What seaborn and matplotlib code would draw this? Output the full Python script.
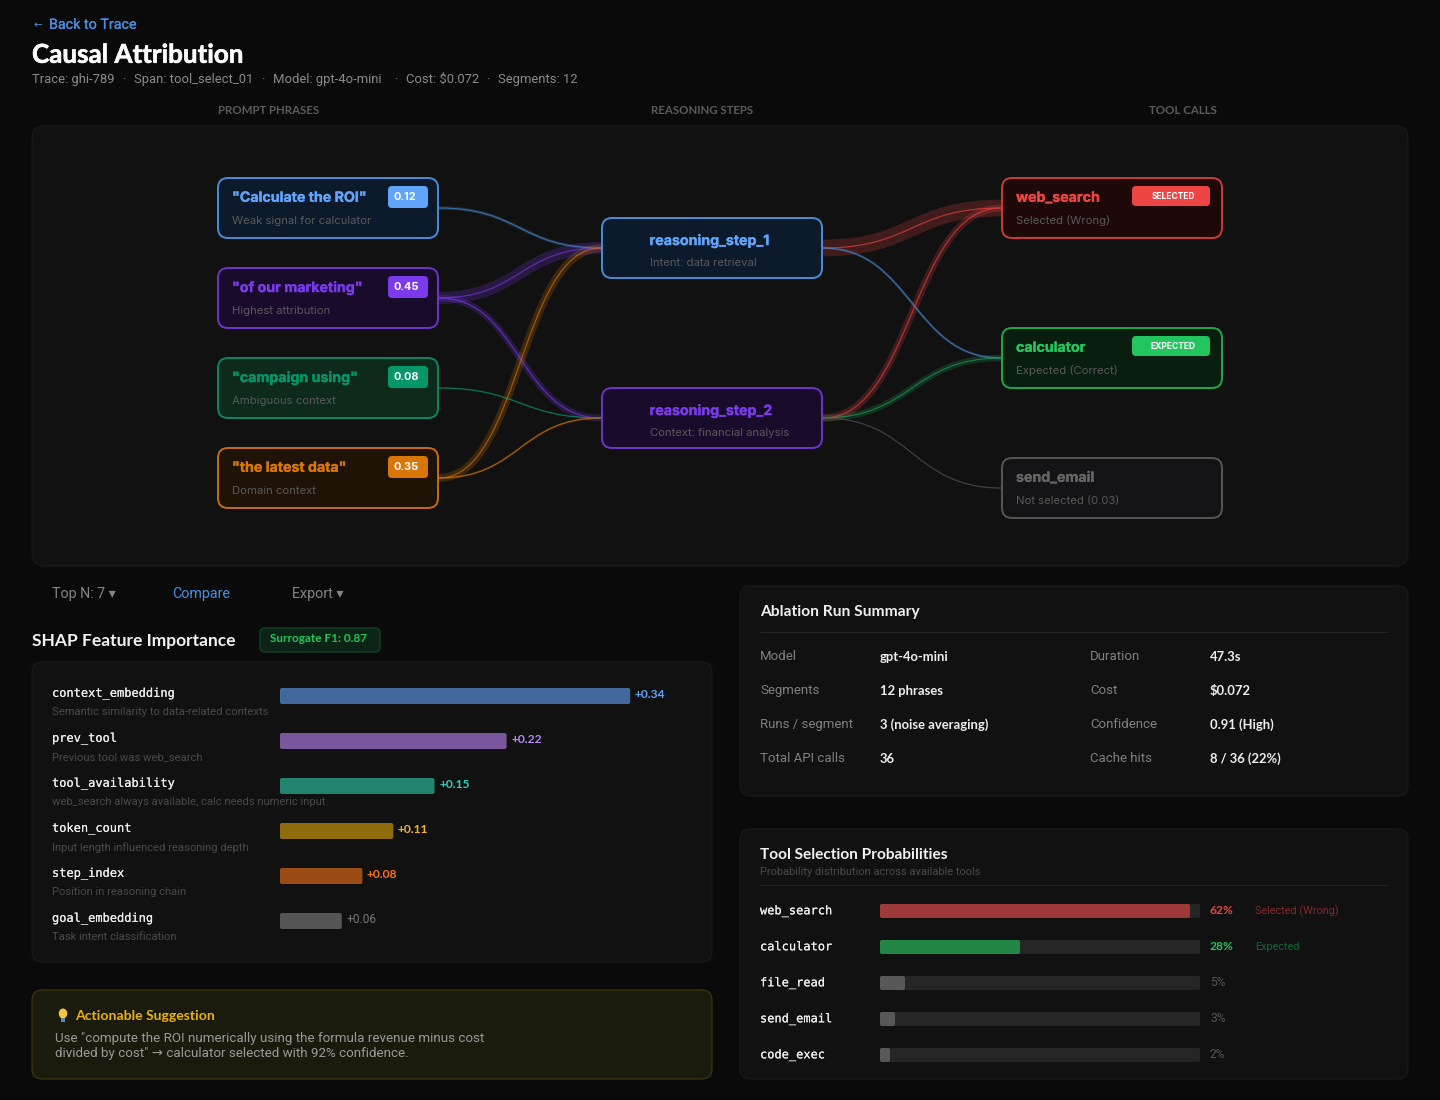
import matplotlib
matplotlib.use("Agg")
import matplotlib.pyplot as plt
import matplotlib.patheffects as pe
from matplotlib.patches import FancyBboxPatch, PathPatch, Ellipse, Rectangle
from matplotlib.path import Path
import seaborn as sns

# ================================
# Data:
# ================================

prompt_names = ['"Calculate the ROI"', '"of our marketing"', '"campaign using"', '"the latest data"']
prompt_notes = ["Weak signal for calculator", "Highest attribution", "Ambiguous context", "Domain context"]
prompt_scores = ["0.12", "0.45", "0.08", "0.35"]

step_names = ["reasoning_step_1", "reasoning_step_2"]
step_notes = ["Intent: data retrieval", "Context: financial analysis"]

tool_names = ["web_search", "calculator", "send_email"]
tool_notes = ["Selected (Wrong)", "Expected (Correct)", "Not selected (0.03)"]
tool_badges = ["SELECTED", "EXPECTED", None]

# source node, target node, weight
link_src = ["p0", "p1", "p1", "p2", "p3", "p3", "s0", "s0", "s1", "s1", "s1"]
link_dst = ["s0", "s0", "s1", "s1", "s0", "s1", "t0", "t1", "t0", "t1", "t2"]
link_weight = [0.12, 0.45, 0.25, 0.06, 0.30, 0.08, 0.62, 0.10, 0.28, 0.24, 0.03]

meta_items = ["Trace: ghi-789", "Span: tool_select_01", "Model: gpt-4o-mini", "Cost: $0.072", "Segments: 12"]

shap_features = ["context_embedding", "prev_tool", "tool_availability", "token_count", "step_index", "goal_embedding"]
shap_notes = ["Semantic similarity to data-related contexts", "Previous tool was web_search",
              "web_search always available, calc needs numeric input", "Input length influenced reasoning depth",
              "Position in reasoning chain", "Task intent classification"]
shap_values = [0.34, 0.22, 0.15, 0.11, 0.08, 0.06]

summary_left = [("Model", "gpt-4o-mini"), ("Segments", "12 phrases"), ("Runs / segment", "3 (noise averaging)"), ("Total API calls", "36")]
summary_right = [("Duration", "47.3s"), ("Cost", "$0.072"), ("Confidence", "0.91 (High)"), ("Cache hits", "8 / 36 (22%)")]

prob_tools = ["web_search", "calculator", "file_read", "send_email", "code_exec"]
prob_values = [62, 28, 5, 3, 2]
prob_notes = ["Selected (Wrong)", "Expected", None, None, None]

# ================================
# Styles:
# ================================

BG = "#0a0a0a"
PANEL = "#111111"
BORDER = "#1c1c1c"
BLUE = "#60a5fa"
PURPLE = "#7c3aed"
SANS = ["Roboto", "DejaVu Sans"]
BOLD = ["Lato", "DejaVu Sans"]
HEAD = ["Inter", "DejaVu Sans"]
MONO = ["DejaVu Sans Mono"]

prompt_style = [("#0c1a2b", "#4a88cf", BLUE), ("#190b2b", "#6a35c4", PURPLE),
                ("#0d2a1b", "#0b8460", "#059669"), ("#1f1307", "#c26a0f", "#d97706")]
step_style = [("#0c1a2b", "#4a88cf", BLUE), ("#190b2b", "#6a35c4", PURPLE)]
tool_style = [("#1e0808", "#c53a3a", "#ef4444"), ("#0a1e0f", "#1ea34d", "#22c55e"), ("#141416", "#555555", "#666666")]
link_colors = ["#4a90d9", "#7c3aed", "#7c3aed", "#059669", "#d97706", "#d97706",
               "#ef4444", "#4a90d9", "#ef4444", "#22a05a", "#555555"]
shap_bar_colors = ["#41699b", "#7a569c", "#22836f", "#8f6c0b", "#9a4c14", "#555555"]
shap_text_colors = [BLUE, "#b48cf5", "#2dd4bf", "#f5b81e", "#f97316", "#777777"]
prob_bar_colors = ["#9f3a3a", "#238646", "#585858", "#585858", "#585858"]
prob_text_colors = ["#ef4444", "#22c55e", "#555555", "#555555", "#555555"]
prob_note_colors = ["#7f2a2a", "#166534", None, None, None]

NODE_W, NODE_H = 222, 62
prompt_x, step_x, tool_x = 217, 601, 1001
prompt_y = [177, 267, 357, 447]
step_y = [217, 387]
tool_y = [177, 327, 457]
meta_x = [32, 134, 273, 406, 498]


def fpx(size):
    """CSS pixels to points at 100 dpi."""
    return size * 0.72


def box(ax, x0, y0, x1, y1, radius, fc, ec="none", lw=1.0, z=1):
    patch = FancyBboxPatch((x0, y0), x1 - x0, y1 - y0, boxstyle="round,pad=0,rounding_size=%g" % radius,
                           fc=fc, ec=ec, lw=lw * 0.72, zorder=z)
    ax.add_patch(patch)
    return patch


def node(ax, x, y, style):
    box(ax, x + 1, y + 1, x + NODE_W - 1, y + NODE_H - 1, 10, style[0], style[1], 2, z=4)


def label(ax, x, y, s, size, color, family=SANS, weight="normal", ha="left", z=5, heavy=0):
    txt = ax.text(x, y + 0.8, s, fontsize=fpx(size), color=color, family=family, weight=weight,
                  ha=ha, va="center", zorder=z)
    if heavy:
        txt.set_path_effects([pe.withStroke(linewidth=heavy, foreground=color)])
    return txt


def link(ax, start, end, color, weight):
    xm = (start[0] + end[0]) / 2
    verts = [start, (xm, start[1]), (xm, end[1]), end]
    codes = [Path.MOVETO, Path.CURVE4, Path.CURVE4, Path.CURVE4]
    ax.add_patch(PathPatch(Path(verts, codes), fc="none", ec=color, lw=fpx(weight * 27), alpha=0.22,
                           capstyle="butt", zorder=2))
    ax.add_patch(PathPatch(Path(verts, codes), fc="none", ec=color, lw=fpx(1.2), alpha=0.65,
                           capstyle="butt", zorder=3))


def roundBars(ax, page, radius):
    """Swap the square seaborn bars for rounded ones at the same place."""
    for bar in list(ax.patches):
        ext = bar.get_window_extent()
        if ext.width <= 0:
            continue
        rounded = FancyBboxPatch((ext.x0, 1100 - ext.y1), ext.width, ext.height,
                                 boxstyle="round,pad=0,rounding_size=%g" % radius,
                                 fc=bar.get_facecolor(), ec="none", transform=page.transData, clip_on=False, zorder=3)
        bar.set_visible(False)
        ax.add_patch(rounded)


def barAxes(fig, x0, y0, x1, y1):
    ax = fig.add_axes([x0 / 1440, 1 - y1 / 1100, (x1 - x0) / 1440, (y1 - y0) / 1100])
    ax.patch.set_alpha(0)
    ax.set_zorder(5)
    return ax


def plotFlow(page):
    box(page, 32, 126, 1408, 566, 12, PANEL, BORDER)
    label(page, 218, 110, "PROMPT PHRASES", 11.55, "#5c5c5c", BOLD, "bold")
    label(page, 651, 110, "REASONING STEPS", 11.55, "#5c5c5c", BOLD, "bold")
    label(page, 1149, 110, "TOOL CALLS", 11.55, "#5c5c5c", BOLD, "bold")

    anchors = {}
    for i, y in enumerate(prompt_y):
        anchors["p%d" % i] = (prompt_x + NODE_W, y + NODE_H / 2)
    for i, y in enumerate(step_y):
        anchors["s%d" % i] = (step_x, y + NODE_H / 2)
    for i, y in enumerate(tool_y):
        anchors["t%d" % i] = (tool_x, y + NODE_H / 2)

    for src, dst, weight, color in zip(link_src, link_dst, link_weight, link_colors):
        start = anchors[src]
        if src[0] == "s":
            start = (step_x + NODE_W, start[1])
        link(page, start, anchors[dst], color, weight)

    for name, note, score, y, style in zip(prompt_names, prompt_notes, prompt_scores, prompt_y, prompt_style):
        node(page, prompt_x, y, style)
        label(page, prompt_x + 15, y + 20, name, 14.2, style[2], HEAD, "bold", heavy=0.2)
        label(page, prompt_x + 15, y + 43, note, 11.3, "#5a5a5a", HEAD)
        box(page, prompt_x + 171, y + 9, prompt_x + 211, y + 31, 4, style[2], z=5)
        label(page, prompt_x + 177, y + 19.5, score, 11, "white", HEAD, "bold", z=6)

    for name, note, y, style in zip(step_names, step_notes, step_y, step_style):
        node(page, step_x, y, style)
        label(page, step_x + 48.5, y + 23, name, 14.2, style[2], HEAD, "bold", heavy=0.2)
        label(page, step_x + 49, y + 45, note, 11.3, "#5a5a5a", HEAD)

    for name, note, badge, y, style in zip(tool_names, tool_notes, tool_badges, tool_y, tool_style):
        node(page, tool_x, y, style)
        label(page, tool_x + 15, y + 20, name, 14.2, style[2], HEAD, "bold", heavy=0.2)
        label(page, tool_x + 15, y + 43, note, 11.3, "#5a5a5a", HEAD)
        if badge:
            box(page, tool_x + 131, y + 9, tool_x + 209, y + 29, 4, style[2], z=5)
            label(page, tool_x + 172, y + 18.5, badge, 8.5, "white", HEAD, "bold", ha="center", z=6)


def plotShap(fig, page):
    label(page, 32, 640, "SHAP Feature Importance", 17.4, "#f2f2f2", BOLD, "bold")
    box(page, 260, 628, 380, 652, 5, "#0c2415", "#14532d")
    label(page, 270, 638, "Surrogate F1: 0.87", 11.7, "#22c55e", BOLD, "bold")
    box(page, 32, 662, 712, 962, 10, PANEL, BORDER)

    ax = barAxes(fig, 280, 673.5, 692, 943.5)
    sns.barplot(x=shap_values, y=shap_features, hue=shap_features, palette=shap_bar_colors, saturation=1,
                width=16 / 45, legend=False, dodge=False, ax=ax)
    ax.set_xlim(0, 0.4)
    ax.axis("off")
    for i, (val, color) in enumerate(zip(shap_values, shap_text_colors)):
        ax.annotate("+%.2f" % val, (val, i), xytext=(3.3, 1.1), textcoords="offset points", va="center",
                    fontsize=fpx(12), color=color, family=BOLD if i < 5 else SANS, weight="bold" if i < 5 else "normal")
    roundBars(ax, page, 2)

    for i, (name, note) in enumerate(zip(shap_features, shap_notes)):
        label(page, 52, 692.5 + 45 * i, name, 12, "#f0f0f0", MONO, heavy=0.08)
        label(page, 52, 711.5 + 45 * i, note, 11.25, "#4a4a4a")


def plotSuggestion(page):
    box(page, 32, 990, 712, 1079, 10, "#1a1a0d", "#473a10")
    page.add_patch(Ellipse((63, 1013.5), 8.5, 10, fc="#f5c542", ec="none", zorder=5))
    page.add_patch(Rectangle((61, 1018), 4, 4, fc="#5b8bb5", ec="none", zorder=5))
    label(page, 75, 1015.5, "Actionable Suggestion", 14, "#eab308", BOLD, "bold")
    label(page, 55, 1038, 'Use "compute the ROI numerically using the formula revenue minus cost', 13.4, "#9a9a9a")
    label(page, 55, 1053, 'divided by cost" \u2192 calculator selected with 92% confidence.', 13.4, "#9a9a9a")


def plotSummary(page):
    box(page, 740, 586, 1408, 796, 10, PANEL, BORDER)
    label(page, 760, 611.5, "Ablation Run Summary", 15.5, "#f0f0f0", BOLD, "bold")
    page.plot([760, 1388], [632, 632], color="#222222", lw=0.75, zorder=3)
    for i, ((k1, v1), (k2, v2)) in enumerate(zip(summary_left, summary_right)):
        y = 656 + 34 * i
        label(page, 760, y, k1, 13.2, "#808080")
        label(page, 880, y, v1, 13, "#eeeeee", BOLD, "bold")
        label(page, 1090, y, k2, 13.2, "#808080")
        label(page, 1210, y, v2, 13, "#eeeeee", BOLD, "bold")


def plotProbs(fig, page):
    box(page, 740, 829, 1408, 1079, 10, PANEL, BORDER)
    label(page, 760, 854, "Tool Selection Probabilities", 15.4, "#f2f2f2", BOLD, "bold")
    label(page, 760, 871, "Probability distribution across available tools", 11, "#4a4a4a")
    page.plot([760, 1388], [885, 885], color="#222222", lw=0.75, zorder=3)

    ax = barAxes(fig, 880, 893, 1200, 1073)
    sns.barplot(x=prob_values, y=prob_tools, hue=prob_tools, palette=prob_bar_colors, saturation=1,
                width=14 / 36, legend=False, dodge=False, ax=ax)
    ax.set_xlim(0, 64)
    ax.axis("off")
    roundBars(ax, page, 2)

    for i, (tool, val, note) in enumerate(zip(prob_tools, prob_values, prob_notes)):
        y = 911 + 36 * i
        box(page, 880, y - 7, 1200, y + 7, 2, "#262626", z=2)
        label(page, 760, y - 1, tool, 12, "#f0f0f0", MONO, heavy=0.08)
        label(page, 1210, y - 1.5, "%d%%" % val, 12, prob_text_colors[i], BOLD if note else SANS, "bold" if note else "normal")
        if note:
            label(page, 1255, y - 0.5, note, 10.9, prob_note_colors[i])


if __name__ == "__main__":
    sns.set_theme(style="dark", rc={"figure.facecolor": BG, "axes.facecolor": BG, "savefig.facecolor": BG})
    plt.rcParams["font.family"] = SANS

    fig = plt.figure(figsize=(14.4, 11), dpi=100)
    page = fig.add_axes([0, 0, 1, 1])
    page.set_xlim(0, 1440)
    page.set_ylim(1100, 0)
    page.axis("off")

    label(page, 33, 24.5, "\u2190", 10.5, "#4a90e2")
    label(page, 49, 24, "Back to Trace", 14.3, "#4a90e2", heavy=0.1)
    label(page, 32, 54, "Causal Attribution", 26, "white", BOLD, "bold", heavy=0.4)
    for i, (item, x) in enumerate(zip(meta_items, meta_x)):
        label(page, x, 78.5, item, 13, "#8a8a8a")
        if i:
            label(page, x - 12, 78.5, "\u00b7", 13, "#8a8a8a")

    plotFlow(page)

    label(page, 52, 593.5, "Top N: 7 \u25be", 14.3, "#858585")
    label(page, 172, 593.5, "Compare", 14.3, "#4a90e2")
    label(page, 292, 593.5, "Export \u25be", 14.3, "#858585")

    plotShap(fig, page)
    plotSuggestion(page)
    plotSummary(page)
    plotProbs(fig, page)

    fig.savefig("out.png", dpi=100)
